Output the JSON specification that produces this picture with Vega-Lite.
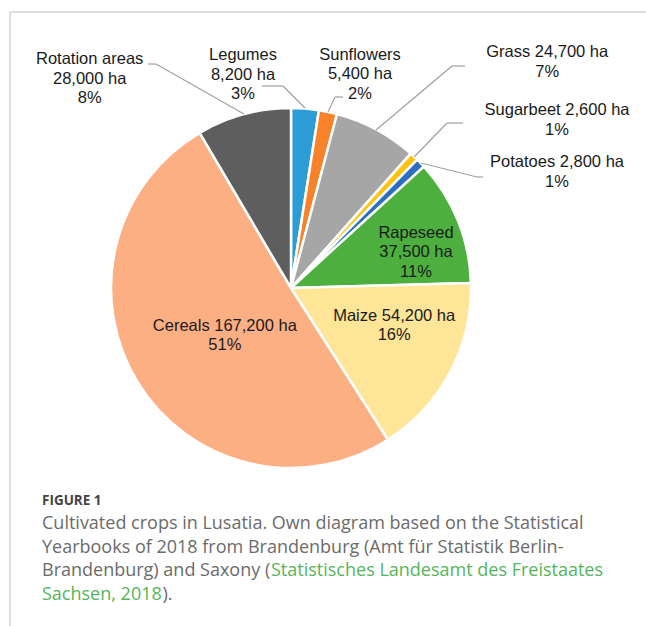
{
  "$schema": "https://vega.github.io/schema/vega-lite/v6.json",
  "width": 582,
  "height": 576,
  "autosize": "none",
  "padding": {"left": 0, "top": 0, "right": 64, "bottom": 50},
  "background": "white",
  "config": {"view": {"stroke": null}},
  "datasets": {
    "crops": [
      {"crop": "Legumes", "area": 8200, "order": 1, "label": "Legumes\n8,200 ha\n3%"},
      {"crop": "Sunflowers", "area": 5400, "order": 2, "label": "Sunflowers\n5,400 ha\n2%"},
      {"crop": "Grass", "area": 24700, "order": 3, "label": "Grass 24,700 ha\n7%"},
      {"crop": "Sugarbeet", "area": 2600, "order": 4, "label": "Sugarbeet 2,600 ha\n1%"},
      {"crop": "Potatoes", "area": 2800, "order": 5, "label": "Potatoes 2,800 ha\n1%"},
      {"crop": "Rapeseed", "area": 37500, "order": 6, "label": "Rapeseed\n37,500 ha\n11%"},
      {"crop": "Maize", "area": 54200, "order": 7, "label": "Maize 54,200 ha\n16%"},
      {"crop": "Cereals", "area": 167200, "order": 8, "label": "Cereals 167,200 ha\n51%"},
      {"crop": "Rotation areas", "area": 28000, "order": 9, "label": "Rotation areas\n28,000 ha\n8%"}
    ]
  },
  "layer": [
    {
      "data": {"values": [{}]},
      "mark": {"type": "rule", "color": "#d2d2d2", "strokeWidth": 1.5},
      "encoding": {"x": {"value": 10}, "y": {"value": 12}, "x2": {"value": 646}, "y2": {"value": 12}}
    },
    {
      "data": {"values": [{}]},
      "mark": {"type": "rule", "color": "#d2d2d2", "strokeWidth": 1.5},
      "encoding": {"x": {"value": 10}, "y": {"value": 12}, "x2": {"value": 10}, "y2": {"value": 626}}
    },
    {
      "data": {"name": "crops"},
      "mark": {"type": "arc", "outerRadius": 180, "stroke": "white", "strokeWidth": 2.5},
      "encoding": {
        "theta": {"field": "area", "type": "quantitative", "stack": true},
        "order": {"field": "order", "type": "quantitative", "sort": "ascending"},
        "color": {
          "field": "crop",
          "type": "nominal",
          "sort": null,
          "scale": {
            "domain": ["Legumes", "Sunflowers", "Grass", "Sugarbeet", "Potatoes", "Rapeseed", "Maize", "Cereals", "Rotation areas"],
            "range": ["#2C9BD6", "#F7822A", "#A6A6A6", "#FFC20E", "#2D6EBF", "#4CAF3E", "#FFE597", "#FBAF83", "#5E5E5E"]
          },
          "legend": null
        }
      }
    },
    {"data": {"name": "crops"}, "transform": [{"stack": "area", "groupby": [], "sort": [{"field": "order", "order": "ascending"}], "as": ["a0", "a1"]}, {"calculate": "(datum.a0 + datum.a1) / 2", "as": "mid"}, {"filter": "datum.crop === 'Legumes'"}],
     "mark": {"type": "text", "radius": 180, "dx": -62, "dy": -53.5, "lineBreak": "\n", "font": "Liberation Sans", "fontSize": 16.5, "lineHeight": 19.5, "align": "center", "baseline": "middle", "color": "#1a1a1a"},
     "encoding": {"theta": {"field": "mid", "type": "quantitative", "stack": null}, "text": {"field": "label"}}},
    {"data": {"name": "crops"}, "transform": [{"stack": "area", "groupby": [], "sort": [{"field": "order", "order": "ascending"}], "as": ["a0", "a1"]}, {"calculate": "(datum.a0 + datum.a1) / 2", "as": "mid"}, {"filter": "datum.crop === 'Sunflowers'"}],
     "mark": {"type": "text", "radius": 180, "dx": 32, "dy": -57, "lineBreak": "\n", "font": "Liberation Sans", "fontSize": 16.5, "lineHeight": 19.5, "align": "center", "baseline": "middle", "color": "#1a1a1a"},
     "encoding": {"theta": {"field": "mid", "type": "quantitative", "stack": null}, "text": {"field": "label"}}},
    {"data": {"name": "crops"}, "transform": [{"stack": "area", "groupby": [], "sort": [{"field": "order", "order": "ascending"}], "as": ["a0", "a1"]}, {"calculate": "(datum.a0 + datum.a1) / 2", "as": "mid"}, {"filter": "datum.crop === 'Grass'"}],
     "mark": {"type": "text", "radius": 180, "dx": 171, "dy": -77, "lineBreak": "\n", "font": "Liberation Sans", "fontSize": 16.5, "lineHeight": 19.5, "align": "center", "baseline": "middle", "color": "#1a1a1a"},
     "encoding": {"theta": {"field": "mid", "type": "quantitative", "stack": null}, "text": {"field": "label"}}},
    {"data": {"name": "crops"}, "transform": [{"stack": "area", "groupby": [], "sort": [{"field": "order", "order": "ascending"}], "as": ["a0", "a1"]}, {"calculate": "(datum.a0 + datum.a1) / 2", "as": "mid"}, {"filter": "datum.crop === 'Sugarbeet'"}],
     "mark": {"type": "text", "radius": 180, "dx": 143, "dy": -46.6, "lineBreak": "\n", "font": "Liberation Sans", "fontSize": 16.5, "lineHeight": 19.5, "align": "center", "baseline": "middle", "color": "#1a1a1a"},
     "encoding": {"theta": {"field": "mid", "type": "quantitative", "stack": null}, "text": {"field": "label"}}},
    {"data": {"name": "crops"}, "transform": [{"stack": "area", "groupby": [], "sort": [{"field": "order", "order": "ascending"}], "as": ["a0", "a1"]}, {"calculate": "(datum.a0 + datum.a1) / 2", "as": "mid"}, {"filter": "datum.crop === 'Potatoes'"}],
     "mark": {"type": "text", "radius": 180, "dx": 136.4, "dy": -1, "lineBreak": "\n", "font": "Liberation Sans", "fontSize": 16.5, "lineHeight": 19.5, "align": "center", "baseline": "middle", "color": "#1a1a1a"},
     "encoding": {"theta": {"field": "mid", "type": "quantitative", "stack": null}, "text": {"field": "label"}}},
    {"data": {"name": "crops"}, "transform": [{"stack": "area", "groupby": [], "sort": [{"field": "order", "order": "ascending"}], "as": ["a0", "a1"]}, {"calculate": "(datum.a0 + datum.a1) / 2", "as": "mid"}, {"filter": "datum.crop === 'Rapeseed'"}],
     "mark": {"type": "text", "radius": 110, "dx": 23, "dy": -14, "lineBreak": "\n", "font": "Liberation Sans", "fontSize": 16.5, "lineHeight": 19.5, "align": "center", "baseline": "middle", "color": "#1a1a1a"},
     "encoding": {"theta": {"field": "mid", "type": "quantitative", "stack": null}, "text": {"field": "label"}}},
    {"data": {"name": "crops"}, "transform": [{"stack": "area", "groupby": [], "sort": [{"field": "order", "order": "ascending"}], "as": ["a0", "a1"]}, {"calculate": "(datum.a0 + datum.a1) / 2", "as": "mid"}, {"filter": "datum.crop === 'Maize'"}],
     "mark": {"type": "text", "radius": 110, "dx": 6, "dy": -24, "lineBreak": "\n", "font": "Liberation Sans", "fontSize": 16.5, "lineHeight": 19.5, "align": "center", "baseline": "middle", "color": "#1a1a1a"},
     "encoding": {"theta": {"field": "mid", "type": "quantitative", "stack": null}, "text": {"field": "label"}}},
    {"data": {"name": "crops"}, "transform": [{"stack": "area", "groupby": [], "sort": [{"field": "order", "order": "ascending"}], "as": ["a0", "a1"]}, {"calculate": "(datum.a0 + datum.a1) / 2", "as": "mid"}, {"filter": "datum.crop === 'Cereals'"}],
     "mark": {"type": "text", "radius": 80, "dx": 2, "dy": -4, "lineBreak": "\n", "font": "Liberation Sans", "fontSize": 16.5, "lineHeight": 19.5, "align": "center", "baseline": "middle", "color": "#1a1a1a"},
     "encoding": {"theta": {"field": "mid", "type": "quantitative", "stack": null}, "text": {"field": "label"}}},
    {"data": {"name": "crops"}, "transform": [{"stack": "area", "groupby": [], "sort": [{"field": "order", "order": "ascending"}], "as": ["a0", "a1"]}, {"calculate": "(datum.a0 + datum.a1) / 2", "as": "mid"}, {"filter": "datum.crop === 'Rotation areas'"}],
     "mark": {"type": "text", "radius": 180, "dx": -154, "dy": -55, "lineBreak": "\n", "font": "Liberation Sans", "fontSize": 16.5, "lineHeight": 19.5, "align": "center", "baseline": "middle", "color": "#1a1a1a"},
     "encoding": {"theta": {"field": "mid", "type": "quantitative", "stack": null}, "text": {"field": "label"}}},
    {"data": {"values": [{}]}, "mark": {"type": "rule", "color": "#a0a0a0", "strokeWidth": 1.2}, "encoding": {"x": {"value": 148}, "y": {"value": 64}, "x2": {"value": 156}, "y2": {"value": 64}}},
    {"data": {"values": [{}]}, "mark": {"type": "rule", "color": "#a0a0a0", "strokeWidth": 1.2}, "encoding": {"x": {"value": 156}, "y": {"value": 64}, "x2": {"value": 244}, "y2": {"value": 114}}},
    {"data": {"values": [{}]}, "mark": {"type": "rule", "color": "#a0a0a0", "strokeWidth": 1.2}, "encoding": {"x": {"value": 262}, "y": {"value": 86}, "x2": {"value": 283}, "y2": {"value": 86}}},
    {"data": {"values": [{}]}, "mark": {"type": "rule", "color": "#a0a0a0", "strokeWidth": 1.2}, "encoding": {"x": {"value": 283}, "y": {"value": 86}, "x2": {"value": 305}, "y2": {"value": 108}}},
    {"data": {"values": [{}]}, "mark": {"type": "rule", "color": "#a0a0a0", "strokeWidth": 1.2}, "encoding": {"x": {"value": 343}, "y": {"value": 97}, "x2": {"value": 335}, "y2": {"value": 97}}},
    {"data": {"values": [{}]}, "mark": {"type": "rule", "color": "#a0a0a0", "strokeWidth": 1.2}, "encoding": {"x": {"value": 335}, "y": {"value": 97}, "x2": {"value": 328}, "y2": {"value": 112}}},
    {"data": {"values": [{}]}, "mark": {"type": "rule", "color": "#a0a0a0", "strokeWidth": 1.2}, "encoding": {"x": {"value": 465}, "y": {"value": 66}, "x2": {"value": 452}, "y2": {"value": 66}}},
    {"data": {"values": [{}]}, "mark": {"type": "rule", "color": "#a0a0a0", "strokeWidth": 1.2}, "encoding": {"x": {"value": 452}, "y": {"value": 66}, "x2": {"value": 376}, "y2": {"value": 130}}},
    {"data": {"values": [{}]}, "mark": {"type": "rule", "color": "#a0a0a0", "strokeWidth": 1.2}, "encoding": {"x": {"value": 463}, "y": {"value": 123}, "x2": {"value": 447}, "y2": {"value": 123}}},
    {"data": {"values": [{}]}, "mark": {"type": "rule", "color": "#a0a0a0", "strokeWidth": 1.2}, "encoding": {"x": {"value": 447}, "y": {"value": 123}, "x2": {"value": 414}, "y2": {"value": 157}}},
    {"data": {"values": [{}]}, "mark": {"type": "rule", "color": "#a0a0a0", "strokeWidth": 1.2}, "encoding": {"x": {"value": 483}, "y": {"value": 177}, "x2": {"value": 477}, "y2": {"value": 177}}},
    {"data": {"values": [{}]}, "mark": {"type": "rule", "color": "#a0a0a0", "strokeWidth": 1.2}, "encoding": {"x": {"value": 477}, "y": {"value": 177}, "x2": {"value": 421}, "y2": {"value": 163}}},
    {"data": {"values": [{}]}, "mark": {"type": "text", "text": "FIGURE 1", "font": "Open Sans", "fontWeight": "bold", "fontSize": 13.5, "color": "#444444", "align": "left", "baseline": "middle"}, "encoding": {"x": {"value": 42}, "y": {"value": 501}}},
    {"data": {"values": [{}]}, "mark": {"type": "text", "text": "Cultivated crops in Lusatia. Own diagram based on the Statistical", "font": "Open Sans", "fontSize": 18, "color": "#6b6b6b", "align": "left", "baseline": "middle"}, "encoding": {"x": {"value": 42}, "y": {"value": 524}}},
    {"data": {"values": [{}]}, "mark": {"type": "text", "text": "Yearbooks of 2018 from Brandenburg (Amt für Statistik Berlin-", "font": "Open Sans", "fontSize": 18, "color": "#6b6b6b", "align": "left", "baseline": "middle"}, "encoding": {"x": {"value": 42}, "y": {"value": 547.5}}},
    {"data": {"values": [{}]}, "mark": {"type": "text", "text": "Brandenburg) and Saxony (", "font": "Open Sans", "fontSize": 18, "color": "#6b6b6b", "align": "left", "baseline": "middle"}, "encoding": {"x": {"value": 42}, "y": {"value": 571}}},
    {"data": {"values": [{}]}, "mark": {"type": "text", "text": "Statistisches Landesamt des Freistaates", "font": "Open Sans", "fontSize": 18, "color": "#55b55a", "align": "left", "baseline": "middle"}, "encoding": {"x": {"value": 271}, "y": {"value": 571}}},
    {"data": {"values": [{}]}, "mark": {"type": "text", "text": "Sachsen, 2018", "font": "Open Sans", "fontSize": 18, "color": "#55b55a", "align": "left", "baseline": "middle"}, "encoding": {"x": {"value": 42}, "y": {"value": 594.5}}},
    {"data": {"values": [{}]}, "mark": {"type": "text", "text": ").", "font": "Open Sans", "fontSize": 18, "color": "#6b6b6b", "align": "left", "baseline": "middle"}, "encoding": {"x": {"value": 162.5}, "y": {"value": 594.5}}}
  ]
}
